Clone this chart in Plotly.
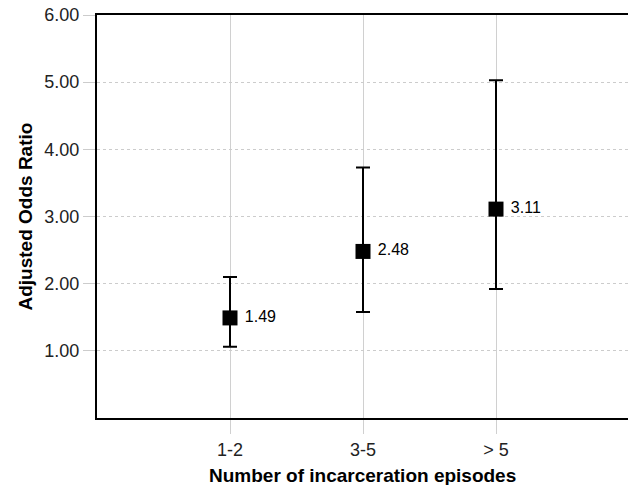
import plotly.graph_objects as go

categories = ["1-2", "3-5", "> 5"]
odds_ratio = [1.49, 2.48, 3.11]
ci_lower = [1.06, 1.58, 1.92]
ci_upper = [2.10, 3.73, 5.03]
y_ticks = [1, 2, 3, 4, 5, 6]
y_tick_labels = ["1.00", "2.00", "3.00", "4.00", "5.00", "6.00"]

err_plus = [u - v for u, v in zip(ci_upper, odds_ratio)]
err_minus = [v - l for v, l in zip(odds_ratio, ci_lower)]

font_family = "Liberation Sans, Arial, Helvetica, sans-serif"

fig = go.Figure()
fig.add_trace(go.Scatter(
    x=categories, y=odds_ratio,
    mode="markers+text",
    marker=dict(symbol="square", size=15, color="black"),
    text=[" " + f"{v:.2f}" for v in odds_ratio],
    textposition="middle right",
    textfont=dict(size=16, color="black", family=font_family),
    error_y=dict(type="data", symmetric=False, array=err_plus, arrayminus=err_minus,
                 color="black", thickness=2, width=7),
    showlegend=False, cliponaxis=False, hoverinfo="skip",
))

W = 629
fig.update_layout(
    width=W, height=485,
    margin=dict(l=97, r=0, t=15, b=67),
    paper_bgcolor="white", plot_bgcolor="white",
    font=dict(family=font_family, color="black"),
    xaxis=dict(
        type="category", range=[-1, 3],
        showline=True, linecolor="black", linewidth=2, mirror=True,
        showgrid=True, gridcolor="#d0d0d0", gridwidth=1,
        ticks="outside", ticklen=14, tickcolor="#d0d0d0", tickwidth=1,
        tickfont=dict(size=18, color="#222"),
        zeroline=False,
    ),
    yaxis=dict(
        range=[0, 6],
        tickvals=y_ticks, ticktext=y_tick_labels,
        showline=True, linecolor="black", linewidth=2, mirror=False,
        showgrid=True, gridcolor="#cccccc", gridwidth=1, griddash="dot",
        ticks="outside", ticklen=12, tickcolor="#cccccc", tickwidth=1,
        tickfont=dict(size=18, color="#222"),
        zeroline=False,
    ),
    annotations=[
        dict(
            text="<b>Number of incarceration episodes</b>",
            xref="paper", yref="paper", x=(362 - 97) / (W - 97), y=0, yshift=-57,
            xanchor="center", yanchor="middle", showarrow=False,
            font=dict(size=19, color="black"),
        ),
        dict(
            text="<b>Adjusted Odds Ratio</b>",
            xref="paper", yref="paper", x=0, y=0.5, xshift=-72,
            xanchor="center", yanchor="middle", showarrow=False, textangle=-90,
            font=dict(size=19, color="black"),
        ),
    ],
)

fig.write_html(
    "out.html",
    config={"displayModeBar": False},
    post_script="document.body.style.margin='0';document.body.style.overflow='hidden';",
)
